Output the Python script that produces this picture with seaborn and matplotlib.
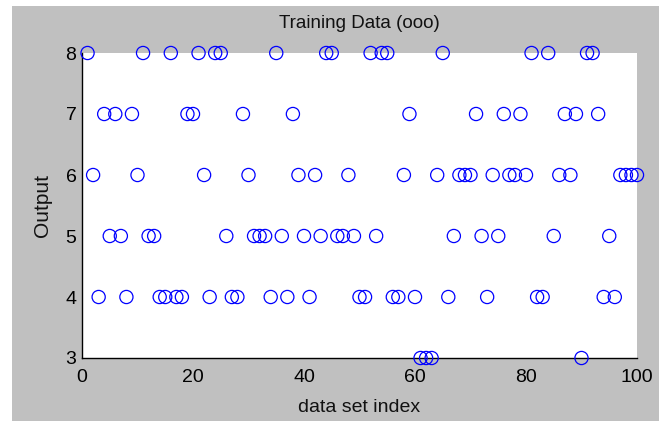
import numpy as np
import pandas as pd
import matplotlib
matplotlib.use('Agg')
import matplotlib.pyplot as plt
import seaborn as sns
from matplotlib import font_manager

# training output per data set index
index = list(range(1, 101))
output = [8, 6, 4, 7, 5, 7, 5, 4, 7, 6,
          8, 5, 5, 4, 4, 8, 4, 4, 7, 7,
          8, 6, 4, 8, 8, 5, 4, 4, 7, 6,
          5, 5, 5, 4, 8, 5, 4, 7, 6, 5,
          4, 6, 5, 8, 8, 5, 5, 6, 5, 4,
          4, 8, 5, 8, 8, 4, 4, 6, 7, 4,
          3, 3, 3, 6, 8, 4, 5, 6, 6, 6,
          7, 5, 4, 6, 5, 7, 6, 6, 7, 6,
          8, 4, 4, 8, 5, 6, 7, 6, 7, 3,
          8, 8, 7, 4, 5, 4, 6, 6, 6, 6]
xticks = [0, 20, 40, 60, 80, 100]
yticks = [3, 4, 5, 6, 7, 8]

df = pd.DataFrame({'index': index, 'output': output})

sns.set_style('white')
names = {f.name for f in font_manager.fontManager.ttflist}
if 'Liberation Sans Narrow' in names:
    fam, k = 'Liberation Sans Narrow', 1.2
else:
    fam, k = 'Liberation Sans', 1.0
plt.rcParams['font.family'] = [fam, 'DejaVu Sans']

fig = plt.figure(figsize=(6.59, 4.24), dpi=100, facecolor='white')
# grey window background
fig.patches.append(plt.Rectangle((12 / 659, 3 / 424), 1 - 12 / 659, 415 / 424,
                                 transform=fig.transFigure, facecolor='#c0c0c0',
                                 edgecolor='none', zorder=-10))
ax = fig.add_axes([82 / 659, 66 / 424, 555 / 659, 305 / 424])
ax.set_facecolor('white')

sns.scatterplot(data=df, x='index', y='output', ax=ax, marker='o', s=90,
                facecolors='none', edgecolors='blue', linewidths=0.9,
                clip_on=False, zorder=3)

ax.set_xlim(0, 100)
ax.set_ylim(3, 8)
ax.set_xticks(xticks)
ax.set_yticks(yticks)
for s in ['top', 'right']:
    ax.spines[s].set_visible(False)
for s in ['left', 'bottom']:
    ax.spines[s].set_color('black')
    ax.spines[s].set_linewidth(1)
ax.tick_params(direction='in', length=5, width=1, colors='black',
               labelsize=14 * k)
ax.tick_params(axis='x', pad=8)
ax.tick_params(axis='y', pad=4)

ax.set_title('Training Data (ooo)', fontsize=13.5 * k, pad=18, color='#111111')
ax.set_xlabel('data set index', fontsize=14 * k, labelpad=9, color='#111111')
ax.set_ylabel('Output', fontsize=15 * k, labelpad=10, color='#111111')

fig.savefig('out.png', dpi=100, facecolor=fig.get_facecolor())
